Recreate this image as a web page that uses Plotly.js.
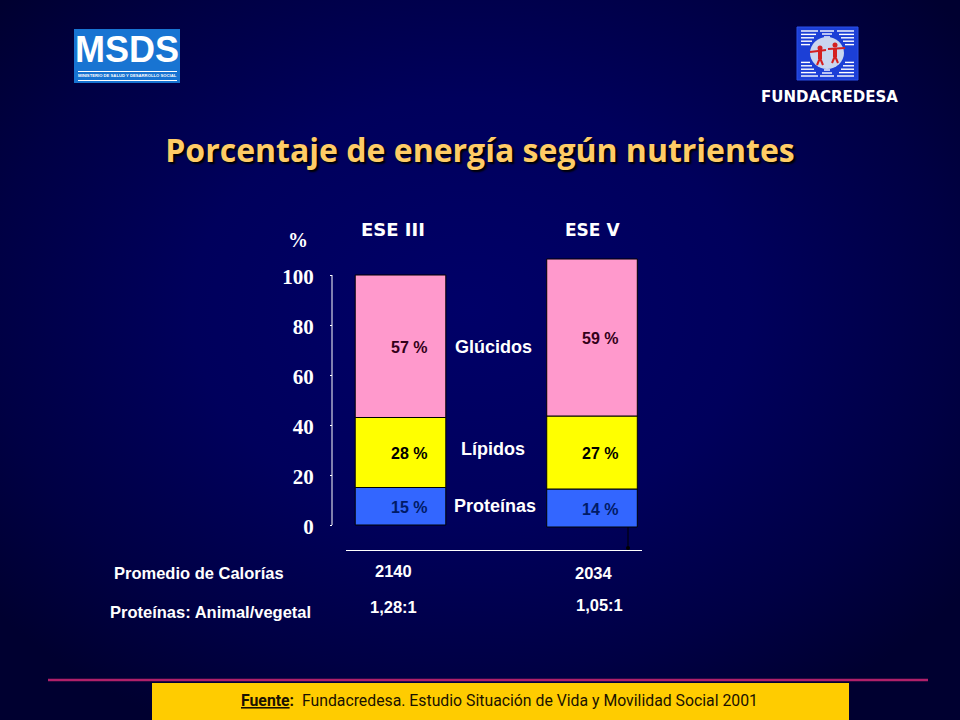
<!DOCTYPE html>
<html>
<head>
<meta charset="utf-8">
<script src="https://cdn.plot.ly/plotly-3.0.1.min.js"></script>
<style>
html,body{margin:0;padding:0;width:960px;height:720px;overflow:hidden;
background:radial-gradient(ellipse 620px 470px at 470px 310px,#000068 0%,#00005c 45%,#000044 78%,#000030 100%);}
#chart{width:960px;height:720px;}
</style>
</head>
<body>
<div id="chart"></div>
<script>
// ---- data ----
const categories = ["ESE III", "ESE V"];
// heights of the segments as drawn (ESE V is drawn taller than its labels)
const proteinas = [15, 15.2];
const lipidos   = [28, 29.2];
const glucidos  = [57, 62.8];
const bottoms   = [0, -0.8];
// printed labels
const labelProteinas = ["15 %", "14 %"];
const labelLipidos   = ["28 %", "27 %"];
const labelGlucidos  = ["57 %", "59 %"];
const yTicks = [0, 20, 40, 60, 80, 100];
const nutrientNames = ["Proteínas", "Lípidos", "Glúcidos"];
const calorias = ["2140", "2034"];
const razon = ["1,28:1", "1,05:1"];

const colProt = "#3366ff", colLip = "#ffff00", colGlu = "#ff99cc";
const W = 960, H = 720;
const px = x => x / W, py = y => 1 - y / H;
const SANS = "'Liberation Sans',Arial,sans-serif";
const SERIF = "'Liberation Serif',serif";
const DEJAVU = "'DejaVu Sans',sans-serif";

const baseLip = bottoms.map((b, i) => b + proteinas[i]);
const baseGlu = baseLip.map((b, i) => b + lipidos[i]);

function bar(name, vals, color, base) {
  return {type:"bar", name, x:categories, y:vals, base,
    marker:{color, line:{color:"#000", width:1}}, cliponaxis:false, hoverinfo:"skip"};
}
const traces = [
  bar(nutrientNames[0], proteinas, colProt, bottoms),
  bar(nutrientNames[1], lipidos, colLip, baseLip),
  bar(nutrientNames[2], glucidos, colGlu, baseGlu)
];

// free text helper (pixel placement)
function T(x, y, text, size, color, family, extra) {
  return Object.assign({xref:"paper", yref:"paper", x:px(x), y:py(y), text,
    showarrow:false, xanchor:"center", yanchor:"middle",
    font:{size, color, family}}, extra || {});
}
const annotations = [];
// labels inside the bars
categories.forEach((c, i) => {
  const mids = [bottoms[i] + proteinas[i]/2, baseLip[i] + lipidos[i]/2, baseGlu[i] + glucidos[i]/2];
  const labs = [labelProteinas[i], labelLipidos[i], labelGlucidos[i]];
  const cols = ["#001a66", "#000000", "#330019"];
  mids.forEach((m, j) => annotations.push({xref:"x", yref:"y", x:c, y:m, text:"<b>"+labs[j]+"</b>",
    showarrow:false, xshift:8, yshift:-1, font:{size:16, color:cols[j], family:SANS}}));
});
annotations.push(
  T(393, 230, "<b>"+categories[0]+"</b>", 18, "#fff", DEJAVU),
  T(592, 230, "<b>"+categories[1]+"</b>", 17, "#fff", DEJAVU),
  T(298, 240, "<b>%</b>", 20, "#fff", SERIF),
  T(494, 347, "<b>"+nutrientNames[2]+"</b>", 18, "#fff", SANS),
  T(493, 449, "<b>"+nutrientNames[1]+"</b>", 18, "#fff", SANS),
  T(495, 506, "<b>"+nutrientNames[0]+"</b>", 18, "#fff", SANS),
  T(199, 573, "<b>Promedio de Calorías</b>", 16.5, "#fff", SANS),
  T(210, 612, "<b>Proteínas: Animal/vegetal</b>", 16.5, "#fff", SANS),
  T(393, 571, "<b>"+calorias[0]+"</b>", 16.5, "#fff", SANS),
  T(594, 573, "<b>"+calorias[1]+"</b>", 16.5, "#fff", SANS),
  T(393, 607, "<b>"+razon[0]+"</b>", 16.5, "#fff", SANS),
  T(599, 605, "<b>"+razon[1]+"</b>", 16.5, "#fff", SANS),
  T(829, 97, "<b>FUNDACREDESA</b>", 15, "#fff", DEJAVU),
  T(127, 50, "<b>MSDS</b>", 36, "#fff", SANS),
  T(127, 76, "<b>MINISTERIO DE SALUD Y DESARROLLO SOCIAL</b>", 4.2, "#fff", SANS),
  T(499, 700, "<span style=\"text-decoration:underline\"><b>Fuente</b></span><b>:</b>  Fundacredesa. Estudio Situación de Vida y Movilidad Social 2001", 15.8, "#1a1200", "Roboto,sans-serif")
);

// slide furniture and logos
function R(x0, y0, x1, y1, color, line) {
  return {type:"rect", xref:"paper", yref:"paper", layer:"below", x0:px(x0), x1:px(x1), y0:py(y0), y1:py(y1),
    fillcolor:color, line:line || {width:0}};
}
function L(x0, y0, x1, y1, color, width) {
  return {type:"line", xref:"paper", yref:"paper", layer:"above", x0:px(x0), x1:px(x1), y0:py(y0), y1:py(y1),
    line:{color, width}};
}
function C(cx, cy, rx, ry, color) {
  return {type:"circle", xref:"paper", yref:"paper", layer:"above", x0:px(cx-rx), x1:px(cx+rx), y0:py(cy-ry), y1:py(cy+ry),
    fillcolor:color, line:{width:0}};
}
const shapes = [
  // value axis line, spanning 0-100 only
  {type:"line", xref:"paper", yref:"y", x0:px(332), x1:px(332), y0:yTicks[0], y1:yTicks[yTicks.length-1],
    line:{color:"#ffffff", width:1}},
  L(48, 680, 928, 680, "#b0206a", 2.5),
  R(152, 683, 849, 720, "#ffcc00"),
  L(628, 527, 628, 549, "#000000", 1),
  C(628, 548, 2, 2, "#000000"),
  // MSDS logo
  R(74, 29, 180, 83, "#1874d2"),
  R(78, 71, 177, 72, "#ffffff"),
  R(78, 80, 177, 81, "#ffffff"),
  // Fundacredesa logo
  R(797, 27, 858, 80, "#1c3fd6", {color:"#2b50e8", width:1})
];
// white banding of the Fundacredesa emblem
[[801,31],[801,76],[854,31],[854,76]].forEach(([x,y]) => {
  const dx = x < 827 ? 1 : -1, dy = y < 53 ? 1 : -1;
  for (let k = 0; k < 5; k++) {
    shapes.push(L(x, y + dy*k*3.4, x + dx*(17-k*2), y + dy*k*3.4, "#ffffff", 1.4));
  }
});
[[827,31,1],[827,76,-1]].forEach(([x,y,s]) => {
  for (let k = 0; k < 3; k++) shapes.push(L(x-7+k*2, y+s*k*3, x+7-k*2, y+s*k*3, "#ffffff", 1.4));
});
shapes.push(
  C(827, 53, 17, 16, "#c9d6ef"),
  R(824, 46, 830, 62, "#7fd3e6"),
  L(810, 52, 826, 50, "#d42020", 2),
  L(828, 49, 845, 48, "#d42020", 2),
  C(820, 48, 2.5, 2.5, "#d42020"),
  C(835, 45, 2.5, 2.5, "#d42020"),
  L(820, 50, 820, 59, "#d42020", 4),
  L(835, 48, 835, 57, "#d42020", 4),
  L(820, 58, 817, 65, "#d42020", 2),
  L(820, 58, 823, 65, "#d42020", 2),
  L(835, 56, 832, 63, "#d42020", 2),
  L(835, 56, 838, 63, "#d42020", 2)
);

const layout = {
  width:W, height:H, margin:{l:0,r:0,t:0,b:0},
  paper_bgcolor:"rgba(0,0,0,0)", plot_bgcolor:"rgba(0,0,0,0)",
  showlegend:false, barmode:"overlay", bargap:0.527,
  title:{text:"<b>Porcentaje de energía según nutrientes</b>", x:0.5, xanchor:"center", xref:"paper",
    y:py(151), yanchor:"middle",
    font:{size:32, color:"#ffcc66", family:"'Open Sans',sans-serif", shadow:"2px 2px 2px #000000"}},
  xaxis:{domain:[px(346), px(642)], anchor:"free", position:py(550), type:"category",
    range:[-0.2846, 1.261], showline:true, linecolor:"#ffffff", linewidth:1,
    showticklabels:false, ticks:"", showgrid:false, zeroline:false, fixedrange:true},
  yaxis:{domain:[py(530), py(250)], anchor:"free", position:px(332), range:[-2,110],
    tickmode:"array", tickvals:yTicks, ticktext:yTicks.map(String),
    showline:false, ticks:"outside", tickcolor:"#ffffff", ticklen:2,
    ticklabelstandoff:12, ticklabelshift:2, showgrid:false, zeroline:false, fixedrange:true,
    tickfont:{family:SERIF, size:21, color:"#ffffff", weight:"bold"}},
  annotations, shapes
};
Plotly.newPlot("chart", traces, layout, {displayModeBar:false, staticPlot:true});
</script>
</body>
</html>
